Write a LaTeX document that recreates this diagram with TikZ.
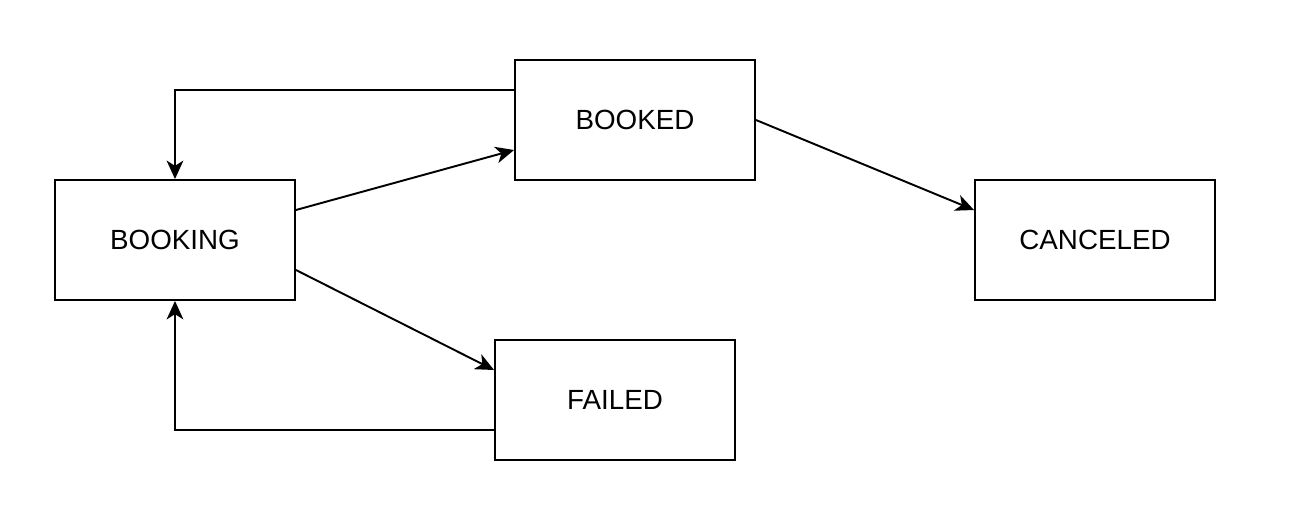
\documentclass[tikz,border=0pt]{standalone}
\usepackage{fontspec}
\setmainfont{Liberation Sans}
\usetikzlibrary{arrows.meta}
\tikzset{state/.style={draw,line width=1.1pt,minimum width=4.8cm,minimum height=2.4cm,inner sep=0pt,font=\fontsize{15.8}{19}\selectfont},
flow/.style={line width=1.1pt,-{Stealth[length=10.5pt,width=9.5pt,inset=3pt]}}}
\begin{document}
\begin{tikzpicture}[x=0.02cm,y=-0.02cm]
\useasboundingbox (0,0) rectangle (1290,530);
\node[state] (booking) at (175,240) {BOOKING};
\node[state] (booked) at (635,120) {BOOKED};
\node[state] (canceled) at (1095,240) {CANCELED};
\node[state] (failed) at (615,400) {FAILED};
\draw[flow] (booked.west|-0,90) -| (booking.north);
\draw[flow] (booking.east|-0,210) -- (booked.west|-0,150);
\draw[flow] (booked.east) -- (canceled.west|-0,210);
\draw[flow] (booking.east|-0,270) -- (failed.west|-0,370);
\draw[flow] (failed.west|-0,430) -| (booking.south);
\end{tikzpicture}
\end{document}
